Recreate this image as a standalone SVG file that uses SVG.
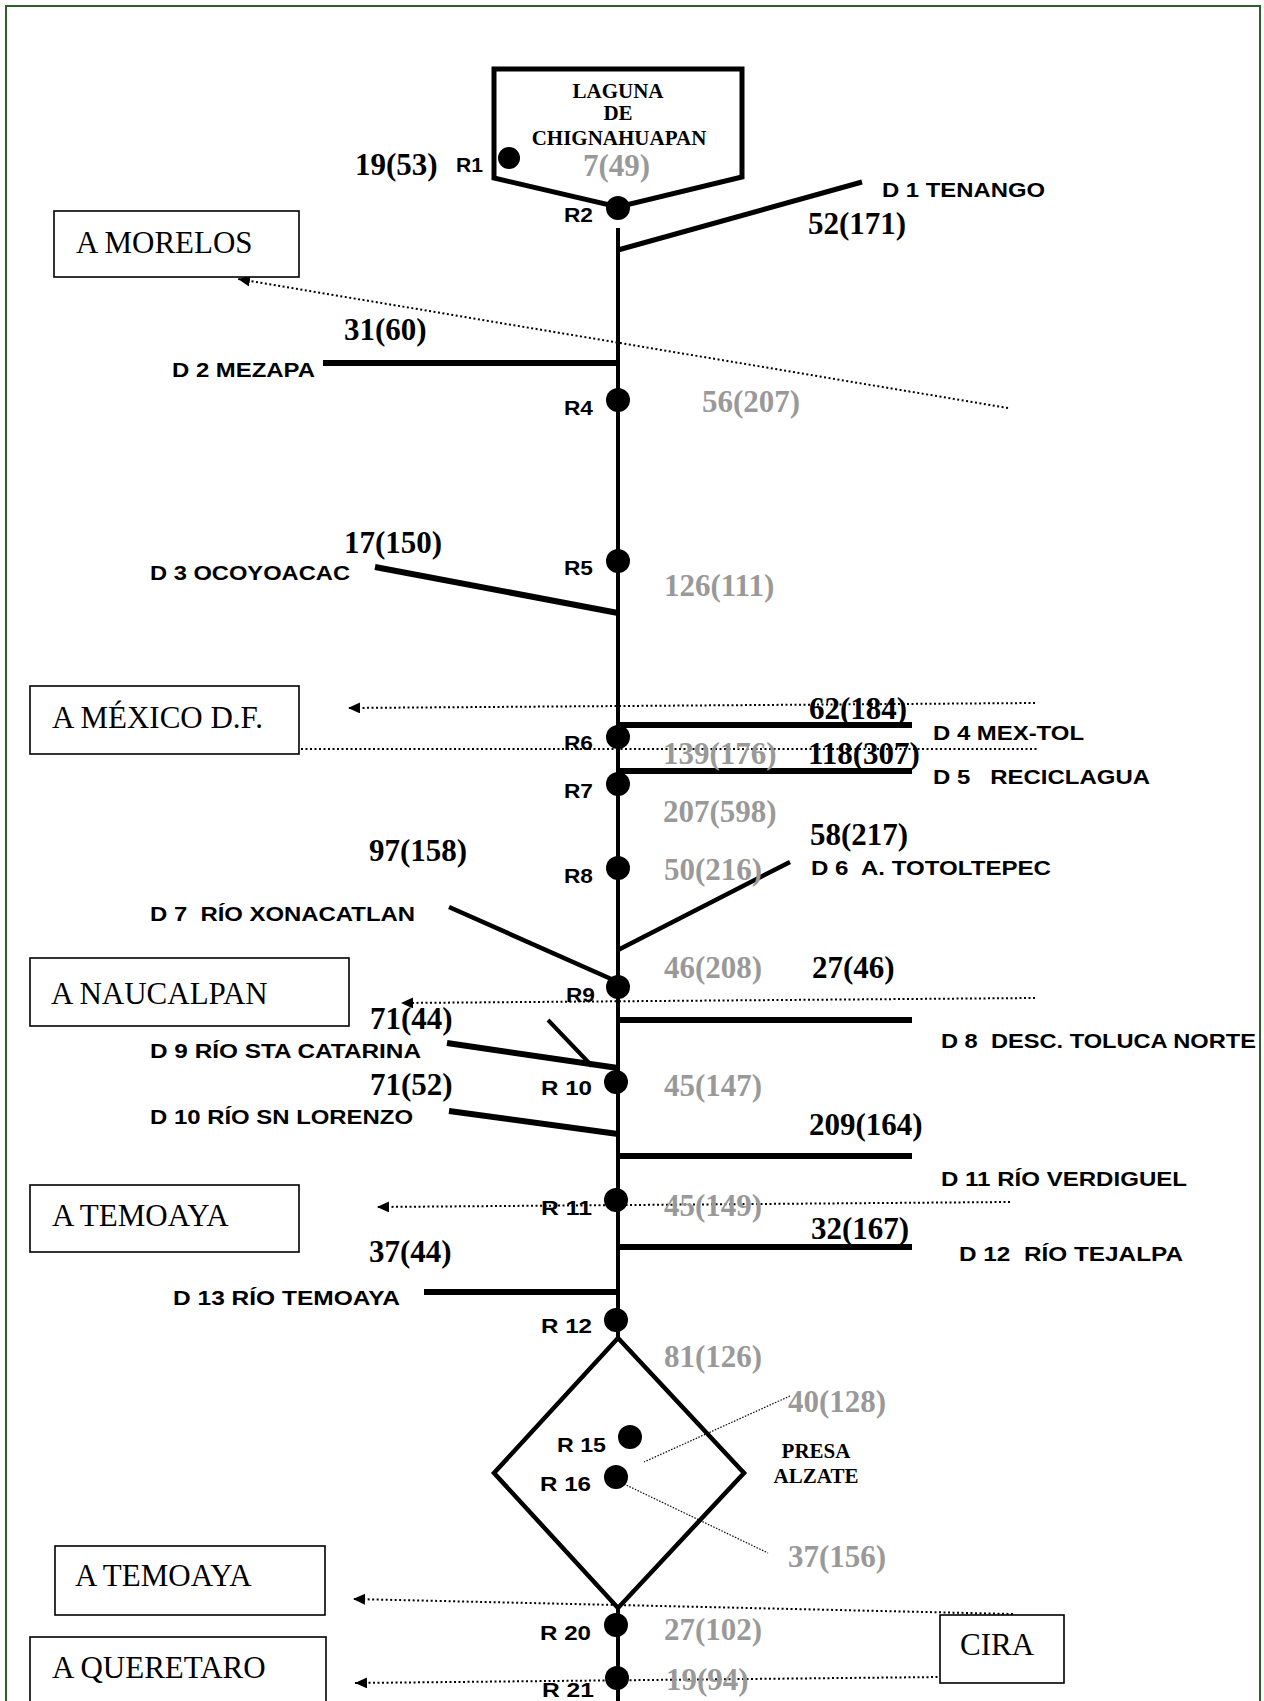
<svg xmlns="http://www.w3.org/2000/svg" width="1264" height="1701" viewBox="0 0 1264 1701">
<style>
.lbl{font-family:"Liberation Sans",Arial,sans-serif;font-weight:bold;font-size:21px;fill:#000}
.num{font-family:"Liberation Serif","Times New Roman",serif;font-weight:bold;font-size:31px;fill:#000}
.g{fill:#999}
.bx{font-family:"Liberation Serif","Times New Roman",serif;font-size:31px;fill:#000}
.lk{font-family:"Liberation Serif","Times New Roman",serif;font-weight:bold;font-size:21px;fill:#000;text-anchor:middle}
.box{fill:#fff;stroke:#000;stroke-width:1.6}
.st{fill:#000}
.trunk{stroke:#000;stroke-width:4;fill:none}
.br{stroke:#000;stroke-width:6;fill:none}
.brd{stroke:#000;stroke-width:5;fill:none}
.dot{stroke:#000;stroke-width:2;stroke-dasharray:2 2.5;fill:none}
.thin{stroke:#000;stroke-width:1.2;stroke-dasharray:1.5 1.5;fill:none}
.pre{white-space:pre}
</style>
<defs>
<marker id="arr" viewBox="0 0 12 11" refX="12" refY="5.5" markerUnits="userSpaceOnUse" markerWidth="12" markerHeight="11" orient="auto">
<path d="M0,0 L12,5.5 L0,11 z" fill="#000"/>
</marker>
</defs>
<rect x="6" y="6" width="1254" height="1730" fill="none" stroke="#2e5e2e" stroke-width="2"/>

<g id="connectors">
<line class="trunk" x1="618" y1="228" x2="618" y2="1338"/>
<line class="trunk" x1="618" y1="1607" x2="618" y2="1701"/>
<line class="brd" x1="618" y1="250" x2="862" y2="182"/>
<line class="br" x1="323" y1="363" x2="618" y2="363"/>
<line class="br" x1="375" y1="567" x2="618" y2="613"/>
<line class="br" x1="618" y1="725" x2="912" y2="725"/>
<line class="br" x1="618" y1="771" x2="912" y2="771"/>
<line class="brd" x1="618" y1="950" x2="790" y2="862" style="stroke-width:4.5"/>
<line class="brd" x1="449" y1="907" x2="618" y2="982" style="stroke-width:4.5"/>
<line class="brd" x1="548" y1="1020" x2="592" y2="1066" style="stroke-width:4"/>
<line class="br" x1="618" y1="1020" x2="912" y2="1020"/>
<line class="br" x1="447" y1="1043" x2="618" y2="1068"/>
<line class="br" x1="449" y1="1111" x2="618" y2="1134"/>
<line class="br" x1="618" y1="1156" x2="912" y2="1156"/>
<line class="br" x1="618" y1="1247" x2="912" y2="1247"/>
<line class="br" x1="424" y1="1292" x2="618" y2="1292"/>
<line class="dot" x1="1008" y1="408" x2="238" y2="279" marker-end="url(#arr)"/>
<line class="dot" x1="1035" y1="703" x2="348" y2="708" marker-end="url(#arr)"/>
<line class="dot" x1="301" y1="749" x2="1037" y2="749"/>
<line class="dot" x1="1035" y1="998" x2="401" y2="1003" marker-end="url(#arr)"/>
<line class="dot" x1="1010" y1="1202" x2="377" y2="1207" marker-end="url(#arr)"/>
<line class="dot" x1="1013" y1="1614" x2="353" y2="1599" marker-end="url(#arr)"/>
<line class="dot" x1="942" y1="1677" x2="355" y2="1683" marker-end="url(#arr)"/>
<line class="thin" x1="790" y1="1396" x2="644" y2="1462"/>
<line class="thin" x1="624" y1="1484" x2="768" y2="1553"/>
</g>

<g id="laguna">
<polygon points="494,69 742,69 742,177 618,207 494,178" fill="none" stroke="#000" stroke-width="5" stroke-linejoin="miter"/>
<text class="lk" x="618" y="98">LAGUNA</text>
<text class="lk" x="618" y="120">DE</text>
<text class="lk" x="619" y="145">CHIGNAHUAPAN</text>
</g>

<g id="presa-alzate">
<polygon points="618,1338 744,1473 618,1608 494,1473" fill="none" stroke="#000" stroke-width="4.5"/>
<text class="lk" x="816" y="1458">PRESA</text>
<text class="lk" x="816" y="1483">ALZATE</text>
</g>

<g id="R1"><circle class="st" cx="509" cy="158" r="11"/><text class="lbl" x="456" y="172" textLength="27" lengthAdjust="spacingAndGlyphs">R1</text><text class="num" x="355" y="175">19(53)</text><text class="num g" x="583" y="176">7(49)</text></g>
<g id="R2"><circle class="st" cx="618" cy="208" r="12"/><text class="lbl" x="564" y="222" textLength="29" lengthAdjust="spacingAndGlyphs">R2</text></g>
<g id="R4"><circle class="st" cx="618" cy="400" r="12"/><text class="lbl" x="564" y="415" textLength="29" lengthAdjust="spacingAndGlyphs">R4</text><text class="num g" x="702" y="412">56(207)</text></g>
<g id="R5"><circle class="st" cx="618" cy="561" r="12"/><text class="lbl" x="564" y="575" textLength="29" lengthAdjust="spacingAndGlyphs">R5</text><text class="num g" x="664" y="596">126(111)</text></g>
<g id="R6"><circle class="st" cx="618" cy="737" r="12"/><text class="lbl" x="564" y="750" textLength="29" lengthAdjust="spacingAndGlyphs">R6</text><text class="num g" x="663" y="764">139(176)</text></g>
<g id="R7"><circle class="st" cx="618" cy="784" r="12"/><text class="lbl" x="564" y="798" textLength="29" lengthAdjust="spacingAndGlyphs">R7</text><text class="num g" x="663" y="822">207(598)</text></g>
<g id="R8"><circle class="st" cx="618" cy="868" r="12"/><text class="lbl" x="564" y="883" textLength="29" lengthAdjust="spacingAndGlyphs">R8</text><text class="num g" x="664" y="880">50(216)</text></g>
<g id="R9"><circle class="st" cx="618" cy="987" r="12"/><text class="lbl" x="566" y="1002" textLength="29" lengthAdjust="spacingAndGlyphs">R9</text><text class="num g" x="664" y="978">46(208)</text></g>
<g id="R10"><circle class="st" cx="616" cy="1082" r="12"/><text class="lbl" x="541" y="1095" textLength="51" lengthAdjust="spacingAndGlyphs">R 10</text><text class="num g" x="664" y="1096">45(147)</text></g>
<g id="R11"><circle class="st" cx="616" cy="1200" r="12"/><text class="lbl" x="541" y="1215" textLength="51" lengthAdjust="spacingAndGlyphs">R 11</text><text class="num g" x="664" y="1216">45(149)</text></g>
<g id="R12"><circle class="st" cx="616" cy="1320" r="12"/><text class="lbl" x="541" y="1333" textLength="51" lengthAdjust="spacingAndGlyphs">R 12</text><text class="num g" x="664" y="1367">81(126)</text></g>
<g id="R15"><circle class="st" cx="630" cy="1437" r="12"/><text class="lbl" x="557" y="1452" textLength="49" lengthAdjust="spacingAndGlyphs">R 15</text><text class="num g" x="788" y="1412">40(128)</text></g>
<g id="R16"><circle class="st" cx="616" cy="1477" r="12"/><text class="lbl" x="540" y="1491" textLength="51" lengthAdjust="spacingAndGlyphs">R 16</text><text class="num g" x="788" y="1567">37(156)</text></g>
<g id="R20"><circle class="st" cx="616" cy="1625" r="12"/><text class="lbl" x="540" y="1640" textLength="51" lengthAdjust="spacingAndGlyphs">R 20</text><text class="num g" x="664" y="1640">27(102)</text></g>
<g id="R21"><circle class="st" cx="617" cy="1678" r="12"/><text class="lbl pre" x="542" y="1697" textLength="52" lengthAdjust="spacingAndGlyphs">R 21</text><text class="num g" x="666" y="1690">19(94)</text></g>

<g id="D1"><text class="lbl" x="882" y="197" textLength="163" lengthAdjust="spacingAndGlyphs">D 1 TENANGO</text><text class="num" x="808" y="234">52(171)</text></g>
<g id="D2"><text class="lbl" x="172" y="377" textLength="143" lengthAdjust="spacingAndGlyphs">D 2 MEZAPA</text><text class="num" x="344" y="340">31(60)</text></g>
<g id="D3"><text class="lbl" x="150" y="580" textLength="200" lengthAdjust="spacingAndGlyphs">D 3 OCOYOACAC</text><text class="num" x="344" y="553">17(150)</text></g>
<g id="D4"><text class="lbl" x="933" y="740" textLength="151" lengthAdjust="spacingAndGlyphs">D 4 MEX-TOL</text><text class="num" x="809" y="719">62(184)</text></g>
<g id="D5"><text class="lbl pre" x="933" y="784" textLength="217" lengthAdjust="spacingAndGlyphs" xml:space="preserve">D 5   RECICLAGUA</text><text class="num" x="808" y="764">118(307)</text></g>
<g id="D6"><text class="lbl pre" x="811" y="875" textLength="240" lengthAdjust="spacingAndGlyphs" xml:space="preserve">D 6  A. TOTOLTEPEC</text><text class="num" x="810" y="845">58(217)</text></g>
<g id="D7"><text class="lbl pre" x="150" y="921" textLength="265" lengthAdjust="spacingAndGlyphs" xml:space="preserve">D 7  RÍO XONACATLAN</text><text class="num" x="369" y="861">97(158)</text></g>
<g id="D8"><text class="lbl pre" x="941" y="1048" textLength="315" lengthAdjust="spacingAndGlyphs" xml:space="preserve">D 8  DESC. TOLUCA NORTE</text><text class="num" x="812" y="978">27(46)</text></g>
<g id="D9"><text class="lbl" x="150" y="1058" textLength="271" lengthAdjust="spacingAndGlyphs">D 9 RÍO STA CATARINA</text><text class="num" x="370" y="1029">71(44)</text></g>
<g id="D10"><text class="lbl" x="150" y="1124" textLength="263" lengthAdjust="spacingAndGlyphs">D 10 RÍO SN LORENZO</text><text class="num" x="370" y="1095">71(52)</text></g>
<g id="D11"><text class="lbl" x="941" y="1186" textLength="246" lengthAdjust="spacingAndGlyphs">D 11 RÍO VERDIGUEL</text><text class="num" x="809" y="1135">209(164)</text></g>
<g id="D12"><text class="lbl pre" x="959" y="1261" textLength="224" lengthAdjust="spacingAndGlyphs" xml:space="preserve">D 12  RÍO TEJALPA</text><text class="num" x="811" y="1239">32(167)</text></g>
<g id="D13"><text class="lbl" x="173" y="1305" textLength="227" lengthAdjust="spacingAndGlyphs">D 13 RÍO TEMOAYA</text><text class="num" x="369" y="1262">37(44)</text></g>

<g id="A-MORELOS"><rect class="box" x="54" y="211" width="245" height="66"/><text class="bx" x="76" y="253">A MORELOS</text></g>
<g id="A-MEXICO"><rect class="box" x="30" y="686" width="269" height="68"/><text class="bx" x="52" y="728">A MÉXICO D.F.</text></g>
<g id="A-NAUCALPAN"><rect class="box" x="30" y="958" width="319" height="68"/><text class="bx" x="51" y="1004">A NAUCALPAN</text></g>
<g id="A-TEMOAYA-1"><rect class="box" x="30" y="1185" width="269" height="67"/><text class="bx" x="52" y="1226">A TEMOAYA</text></g>
<g id="A-TEMOAYA-2"><rect class="box" x="55" y="1546" width="270" height="69"/><text class="bx" x="75" y="1586">A TEMOAYA</text></g>
<g id="A-QUERETARO"><rect class="box" x="30" y="1637" width="296" height="80"/><text class="bx" x="52" y="1678">A QUERETARO</text></g>
<g id="CIRA"><rect class="box" x="940" y="1615" width="124" height="68"/><text class="bx" x="960" y="1655">CIRA</text></g>
</svg>
